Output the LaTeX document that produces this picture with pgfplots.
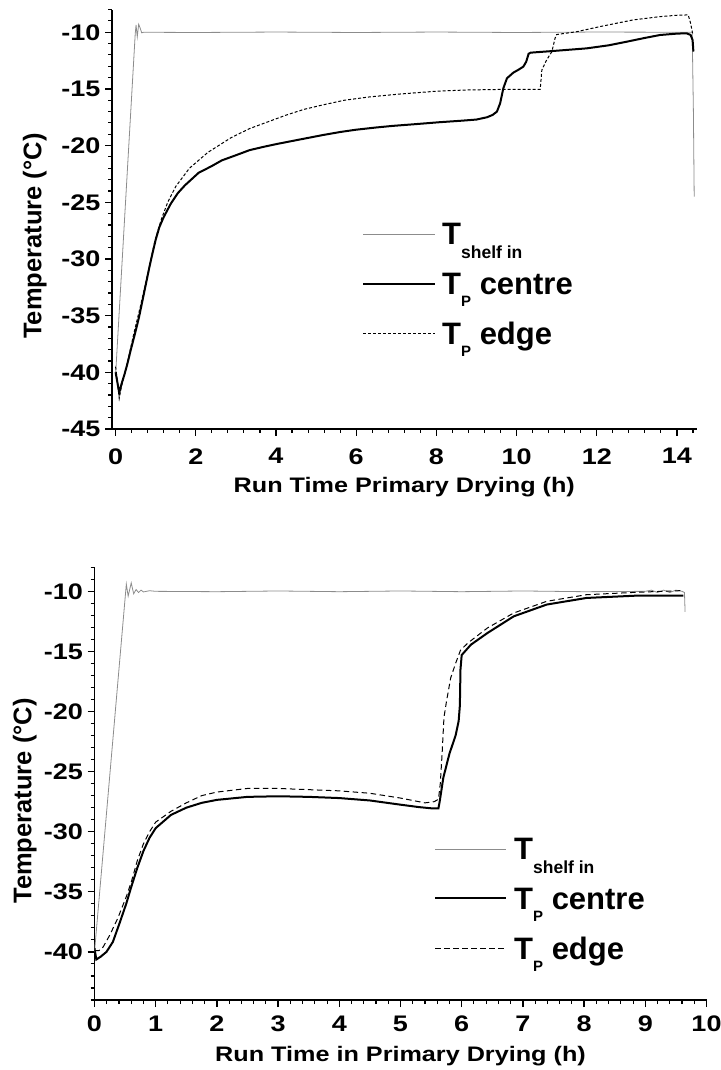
\documentclass[border=0pt]{standalone}
\usepackage{fontspec}
\setmainfont{Liberation Sans}
\newfontfamily\tickfont{Liberation Sans}[FakeStretch=1.2]
\usepackage{pgfplots}
\pgfplotsset{compat=1.18}
\definecolor{shelfgray}{RGB}{140,140,140}

\tikzset{
  shelf/.style={shelfgray, line width=0.8bp},
  centre/.style={black, line width=2bp},
}
\pgfplotsset{
  myaxis/.style={
    scale only axis,
    axis x line=bottom, axis y line=left,
    axis line style={-, line width=1.5bp, black},
    tick align=outside,
    major tick length=7bp, minor tick length=4bp,
    major tick style={line width=1.3bp, black},
    minor tick style={line width=1.1bp, black},
    tick label style={font=\tickfont\bfseries\fontsize{22.5bp}{22.5bp}\selectfont},
    yticklabel style={xshift=-1bp},
    xlabel style={font=\tickfont\bfseries\fontsize{21bp}{21bp}\selectfont},
    ylabel style={font=\bfseries\fontsize{25.5bp}{25.5bp}\selectfont},
  },
}

\pgfplotstableread{
x y
0 -40.2
0.49 -10.1
0.51 -9.36
0.54 -10.4
0.575 -9.3
0.61 -9.6
0.65 -10.05
0.7 -10.0
2 -10.02
4 -9.98
6 -10.02
8 -9.98
10 -10.02
12 -9.98
14.38 -10.0
14.41 -17.0
14.43 -24.5
}\shelfA

\pgfplotstableread{
x y
0 -40.0
0.05 -41.0
0.09 -41.8
0.15 -41.0
0.22 -40.2
0.29 -39.3
0.38 -38.0
0.46 -36.9
0.58 -35.2
0.68 -33.5
0.75 -32.3
0.85 -30.6
0.92 -29.5
1.0 -28.3
1.09 -27.2
1.2 -26.3
1.38 -25.1
1.55 -24.2
1.73 -23.5
2.07 -22.4
2.4 -21.8
2.65 -21.3
3.0 -20.85
3.34 -20.4
3.7 -20.1
4.03 -19.85
4.61 -19.45
5.18 -19.06
5.6 -18.8
5.99 -18.6
6.5 -18.4
6.91 -18.26
7.5 -18.1
8.06 -17.94
8.64 -17.8
9.0 -17.7
9.26 -17.5
9.4 -17.3
9.51 -17.0
9.59 -16.27
9.67 -14.94
9.76 -14.06
9.92 -13.56
10.05 -13.3
10.17 -13.03
10.24 -12.6
10.3 -11.9
10.35 -11.8
10.92 -11.65
11.75 -11.42
12.3 -11.15
12.75 -10.83
13.2 -10.5
13.58 -10.24
14.0 -10.12
14.24 -10.09
14.34 -10.24
14.39 -10.68
14.41 -11.7
}\centreA

\pgfplotstableread{
x y
0 -39.5
0.05 -41.0
0.09 -42.3
0.15 -41.2
0.22 -40.2
0.29 -39.2
0.46 -36.5
0.63 -34.0
0.81 -31.2
0.98 -28.4
1.15 -26.4
1.3 -25.0
1.5 -23.6
1.84 -22.0
2.3 -20.6
2.88 -19.3
3.34 -18.5
3.8 -17.9
4.26 -17.3
4.7 -16.8
5.18 -16.4
5.7 -16.0
6.34 -15.7
7.09 -15.45
8.0 -15.2
8.76 -15.09
9.5 -15.05
10.59 -15.03
10.63 -13.33
10.75 -12.44
10.88 -11.71
10.96 -10.53
11.0 -10.2
11.5 -9.95
12.08 -9.5
12.5 -9.2
12.91 -8.91
13.58 -8.62
14.0 -8.5
14.28 -8.47
14.34 -9.2
14.39 -10.1
}\edgeA

\pgfplotstableread{
x y
0 -40.0
0.52 -9.4
0.55 -10.4
0.6 -9.3
0.64 -10.2
0.68 -9.85
0.72 -10.1
0.76 -9.9
0.8 -10.05
0.9 -9.95
1.0 -10.0
2 -10.03
3 -9.97
4 -10.03
5 -9.97
6 -10.03
7 -9.97
8 -10.03
9.0 -10.0
9.1 -9.9
9.2 -10.1
9.3 -9.9
9.4 -10.1
9.5 -9.9
9.6 -10.0
9.64 -10.1
9.65 -11.7
}\shelfB

\pgfplotstableread{
x y
0 -39.7
0.03 -40.63
0.1 -40.4
0.195 -40.0
0.3 -39.17
0.41 -37.6
0.52 -35.97
0.6 -34.6
0.7 -33.0
0.8 -31.6
0.9 -30.5
1.0 -29.7
1.25 -28.6
1.5 -28.0
1.75 -27.6
2.0 -27.35
2.5 -27.1
3.0 -27.05
3.5 -27.1
4.0 -27.2
4.5 -27.4
5.0 -27.75
5.3 -27.95
5.5 -28.05
5.62 -28.05
5.64 -27.5
5.7 -25.5
5.8 -23.5
5.9 -22.0
5.95 -20.8
5.97 -19.5
5.98 -16.5
6.0 -15.3
6.15 -14.44
6.42 -13.47
6.85 -12.08
7.39 -11.1
8.04 -10.55
8.85 -10.36
9.62 -10.36
}\centreB

\pgfplotstableread{
x y
0 -39.9
0.07 -39.9
0.14 -39.6
0.25 -38.6
0.38 -37.2
0.52 -35.4
0.6 -34.2
0.7 -32.4
0.8 -31.0
0.9 -30.0
1.0 -29.2
1.25 -28.3
1.5 -27.6
1.75 -27.0
2.0 -26.7
2.5 -26.4
3.0 -26.4
3.5 -26.5
4.0 -26.6
4.5 -26.8
5.0 -27.2
5.4 -27.6
5.55 -27.5
5.62 -27.3
5.65 -26.0
5.68 -23.5
5.71 -20.5
5.75 -19.2
5.82 -17.2
5.9 -16.0
5.98 -14.9
6.1 -14.3
6.42 -13.05
6.85 -11.8
7.39 -10.83
8.04 -10.28
8.85 -10.08
9.6 -9.94
}\edgeB

\begin{document}
\begin{tikzpicture}
\useasboundingbox (0,0) rectangle (721bp,1070bp);

\begin{axis}[myaxis,
  at={(112bp,641bp)}, anchor=south west,
  width=584.6bp, height=419.4bp,
  xmin=-0.09, xmax=14.49, ymin=-45, ymax=-8,
  xtick={0,2,4,6,8,10,12,14},
  xticklabels={0,2,4,6,8,10,12,14},
  xticklabel style={yshift=-9bp},
  ytick={-45,-40,-35,-30,-25,-20,-15,-10},
  yticklabels={-45,-40,-35,-30,-25,-20,-15,-10},
  minor xtick={0,0.4,...,14.45},
  minor ytick={-45,-44,...,-8},
  xlabel={Run Time Primary Drying (h)},
  ylabel={Temperature (°C)},
  xlabel style={at={(axis description cs:0.5,-0.1526)}, anchor=base},
  ylabel style={at={(axis description cs:-0.121,0.46)}, anchor=base},
]
\addplot[shelf] table {\shelfA};
\addplot[centre] table {\centreA};
\addplot[black, line width=1bp, dash pattern=on 3bp off 2bp] table {\edgeA};
\end{axis}

% legend of the upper chart
\draw[shelf] (363.3bp,835.7bp) -- (435bp,835.7bp);
\draw[centre] (363.3bp,786bp) -- (435bp,786bp);
\draw[black, line width=1bp, dash pattern=on 3bp off 2bp] (363.3bp,736.7bp) -- (435bp,736.7bp);
\node[anchor=base west, inner sep=0pt, font=\bfseries] at (442bp,825bp)
  {\fontsize{31bp}{31bp}\selectfont T\raisebox{-13.3bp}{\fontsize{17.5bp}{17.5bp}\selectfont shelf in}};
\node[anchor=base west, inner sep=0pt, font=\bfseries] at (442bp,775bp)
  {\fontsize{31bp}{31bp}\selectfont T\raisebox{-11.7bp}{\fontsize{15bp}{15bp}\selectfont P} centre};
\node[anchor=base west, inner sep=0pt, font=\bfseries] at (442bp,725bp)
  {\fontsize{31bp}{31bp}\selectfont T\raisebox{-11.7bp}{\fontsize{15bp}{15bp}\selectfont P} edge};

\begin{axis}[myaxis,
  at={(94.5bp,70bp)}, anchor=south west,
  width=612bp, height=432.7bp,
  xmin=0, xmax=10, ymin=-44, ymax=-8,
  xtick={0,1,2,3,4,5,6,7,8,9,10},
  xticklabels={0,1,2,3,4,5,6,7,8,9,10},
  xticklabel style={yshift=-5bp},
  ytick={-40,-35,-30,-25,-20,-15,-10},
  yticklabels={-40,-35,-30,-25,-20,-15,-10},
  minor xtick={0,0.2,...,10.05},
  minor ytick={-44,-43,...,-8},
  xlabel={Run Time in Primary Drying (h)},
  ylabel={Temperature (°C)},
  xlabel style={at={(axis description cs:0.5,-0.141)}, anchor=base},
  ylabel style={at={(axis description cs:-0.103,0.46)}, anchor=base},
]
\addplot[shelf] table {\shelfB};
\addplot[centre] table {\centreB};
\addplot[black, line width=1bp, dash pattern=on 5.5bp off 3.5bp] table {\edgeB};
\end{axis}

% legend of the lower chart
\draw[shelf] (435bp,220.7bp) -- (506bp,220.7bp);
\draw[centre] (435bp,171.7bp) -- (506bp,171.7bp);
\draw[black, line width=1bp, dash pattern=on 5.5bp off 3.5bp] (435bp,121.7bp) -- (506bp,121.7bp);
\node[anchor=base west, inner sep=0pt, font=\bfseries] at (514bp,210bp)
  {\fontsize{31bp}{31bp}\selectfont T\raisebox{-13.3bp}{\fontsize{17.5bp}{17.5bp}\selectfont shelf in}};
\node[anchor=base west, inner sep=0pt, font=\bfseries] at (514bp,160bp)
  {\fontsize{31bp}{31bp}\selectfont T\raisebox{-11.7bp}{\fontsize{15bp}{15bp}\selectfont P} centre};
\node[anchor=base west, inner sep=0pt, font=\bfseries] at (514bp,110bp)
  {\fontsize{31bp}{31bp}\selectfont T\raisebox{-11.7bp}{\fontsize{15bp}{15bp}\selectfont P} edge};
\end{tikzpicture}
\end{document}
